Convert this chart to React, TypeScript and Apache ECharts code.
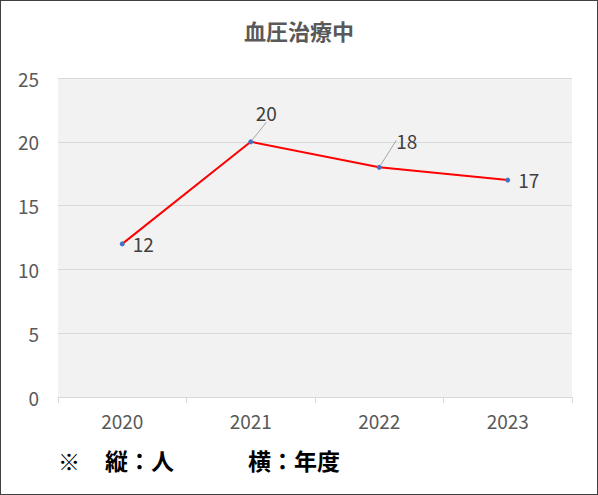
import { useEffect, useRef } from "react";
import * as echarts from "echarts";

const years = ["2020", "2021", "2022", "2023"];
const patients = [12, 20, 18, 17];
// label offsets from the default "right" position, per point
const labelShift = [
  { dx: 3, dy: 0 },
  { dx: -2.5, dy: -29 },
  { dx: 9.5, dy: -27 },
  { dx: 3, dy: -1 },
];
const leaderLine = [false, true, true, false];

const font = "'Noto Sans CJK JP', sans-serif";

export default function App() {
  const chartRef = useRef<HTMLDivElement>(null);

  useEffect(() => {
    document.body.style.margin = "0";
    if (!chartRef.current) return;
    const chart = echarts.init(chartRef.current, undefined, { renderer: "svg" });

    chart.setOption({
      animation: false,
      backgroundColor: "#ffffff",
      title: {
        text: "血圧治療中",
        left: "center",
        top: 13,
        textStyle: { fontFamily: font, fontSize: 22, fontWeight: "bold", color: "#595959" },
      },
      grid: {
        left: 57,
        right: 25,
        top: 77,
        bottom: 97,
        show: true,
        backgroundColor: "#f2f2f2",
        borderWidth: 0,
      },
      xAxis: {
        type: "category",
        data: years,
        boundaryGap: true,
        axisLine: { lineStyle: { color: "#d9d9d9" } },
        axisTick: { show: true, length: 6, lineStyle: { color: "#d9d9d9" } },
        axisLabel: { color: "#595959", fontSize: 19, fontFamily: font, margin: 14 },
      },
      yAxis: {
        type: "value",
        min: 0,
        max: 25,
        interval: 5,
        axisLine: { show: false },
        axisTick: { show: false },
        splitLine: { lineStyle: { color: "#d9d9d9" } },
        axisLabel: { color: "#595959", fontSize: 19, fontFamily: font, margin: 19 },
      },
      series: [
        {
          type: "line",
          data: patients.map((v, i) => ({
            value: v,
            labelLine: { show: leaderLine[i] },
          })),
          symbol: "circle",
          symbolSize: 5,
          itemStyle: { color: "#4472c4" },
          lineStyle: { color: "#ff0000", width: 2 },
          label: {
            show: true,
            position: "right",
            distance: 5,
            color: "#404040",
            fontSize: 19,
            fontFamily: font,
          },
          labelLine: { show: true, lineStyle: { color: "#a6a6a6", width: 1 } },
          labelLayout: (p: any) => ({
            dx: labelShift[p.dataIndex].dx,
            dy: labelShift[p.dataIndex].dy,
          }),
        },
      ],
      graphic: [
        {
          type: "text",
          left: 57,
          top: 448,
          style: { text: "※", fontFamily: font, fontSize: 22, fill: "#000" },
        },
        {
          type: "text",
          left: 104,
          top: 447,
          style: { text: "縦：人", fontFamily: font, fontSize: 23, fontWeight: "bold", fill: "#000" },
        },
        {
          type: "text",
          left: 247,
          top: 447,
          style: { text: "横：年度", fontFamily: font, fontSize: 23, fontWeight: "bold", fill: "#000" },
        },
      ],
    });

    return () => {
      chart.dispose();
    };
  }, []);

  return (
    <div
      style={{
        position: "absolute",
        left: 0,
        top: 0,
        width: 598,
        height: 495,
        boxSizing: "border-box",
        border: "1px solid #404040",
      }}
    >
      <div ref={chartRef} style={{ width: 596, height: 493 }} />
    </div>
  );
}
